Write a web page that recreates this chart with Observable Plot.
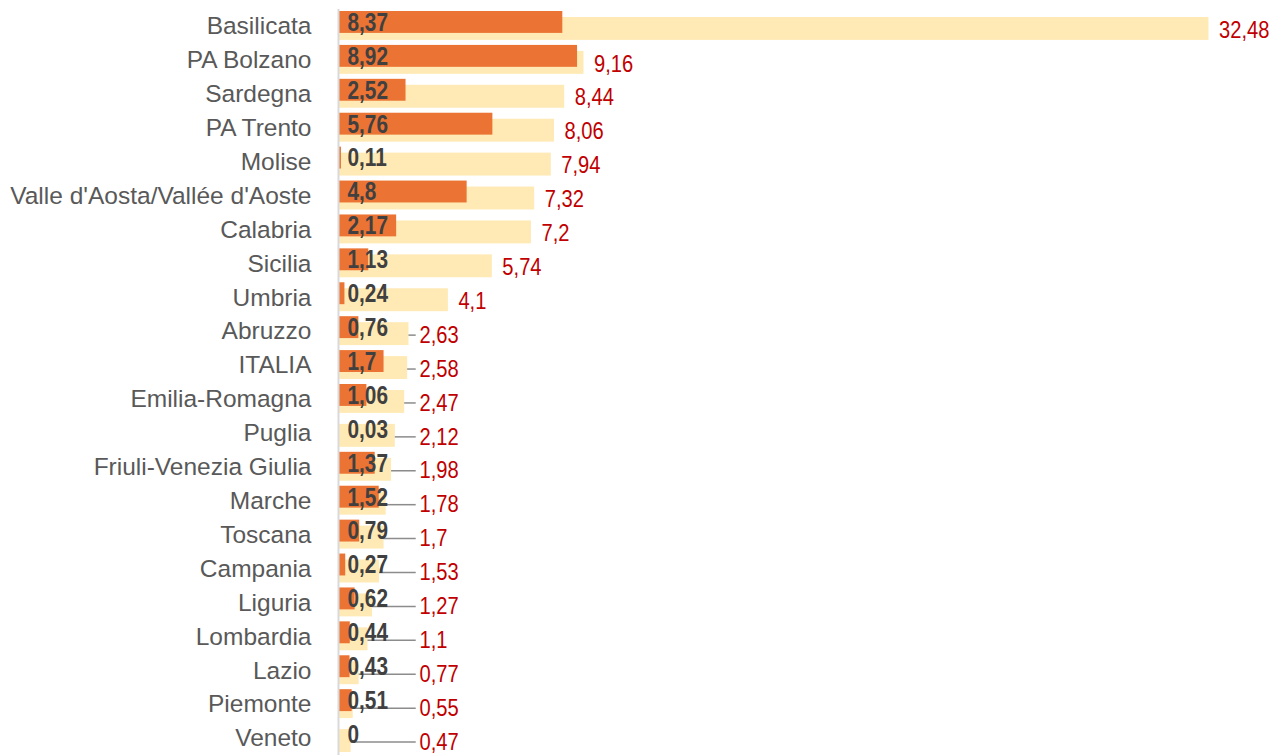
<!DOCTYPE html>
<html>
<head>
<meta charset="utf-8">
<script src="https://cdn.jsdelivr.net/npm/d3@7"></script>
<script src="https://cdn.jsdelivr.net/npm/@observablehq/plot@0.6"></script>
<style>
  html, body { margin: 0; padding: 0; background: #fff; overflow: hidden; }
  #chart svg { display: block; }
</style>
</head>
<body>
<div id="chart"></div>
<script>
const regions = ["Basilicata", "PA Bolzano", "Sardegna", "PA Trento", "Molise", "Valle d'Aosta/Vallée d'Aoste", "Calabria", "Sicilia", "Umbria", "Abruzzo", "ITALIA", "Emilia-Romagna", "Puglia", "Friuli-Venezia Giulia", "Marche", "Toscana", "Campania", "Liguria", "Lombardia", "Lazio", "Piemonte", "Veneto"];
const seriesLight = [32.48, 9.16, 8.44, 8.06, 7.94, 7.32, 7.2, 5.74, 4.1, 2.63, 2.58, 2.47, 2.12, 1.98, 1.78, 1.7, 1.53, 1.27, 1.1, 0.77, 0.55, 0.47];
const seriesDark = [8.37, 8.92, 2.52, 5.76, 0.11, 4.8, 2.17, 1.13, 0.24, 0.76, 1.7, 1.06, 0.03, 1.37, 1.52, 0.79, 0.27, 0.62, 0.44, 0.43, 0.51, 0];

const data = regions.map((r, i) => ({region: r, a: seriesLight[i], b: seriesDark[i]}));
const fmt = v => String(v).replace(".", ",");
const minLabel = 2.65;       // labels of short bars are pushed out to this value
const labelPos = d => Math.max(d.a, minLabel);

const chart = Plot.plot({
  width: 1276,
  height: 755,
  marginLeft: 338,
  marginRight: 0,
  marginTop: 9,
  marginBottom: 0,
  style: {fontFamily: "'Liberation Sans', Arial, sans-serif", background: "#fff"},
  x: {domain: [0, 35], axis: null},
  y: {domain: regions, padding: 0, round: false, label: null},
  marks: [
    Plot.barX(data, {y: "region", x: "a", fill: "#FFEAB5", insetTop: 8, insetBottom: 3}),
    Plot.barX(data, {y: "region", x: "b", fill: "#EB7434", insetTop: 2, insetBottom: 10}),
    Plot.ruleY(data.filter(d => d.a < 2.7), {
      y: "region", x1: "a", x2: d => labelPos(d) + 0.25,
      stroke: "#8c8c8c", strokeWidth: 1.5, dy: 3.5
    }),
    Plot.text(data, {
      y: "region", x: 0, text: d => fmt(d.b), textAnchor: "start", dx: 9, dy: -4,
      fill: "#404040", fontWeight: "bold", fontSize: 26
    }),
    Plot.text(data, {
      y: "region", x: labelPos, text: d => fmt(d.a), textAnchor: "start", dx: 10, dy: 3.5,
      fill: "#C00000", fontSize: 24
    }),
    Plot.ruleX([0], {stroke: "#D9D9D9", strokeWidth: 2}),
    Plot.axisY({tickSize: 0, tickPadding: 27, fontSize: 24.5, color: "#595959", label: null})
  ]
});
document.getElementById("chart").appendChild(chart);

// condensed look of the value labels (narrow font is not installed): squeeze horizontally
const groups = chart.querySelectorAll('g[aria-label="text"]');
const squeeze = [0.8, 0.84];
groups.forEach((g, k) => {
  g.querySelectorAll("text").forEach(t => {
    const tr = t.getAttribute("transform") || "";
    const x = +(t.getAttribute("x") || 0);
    if (x) {
      t.setAttribute("transform", `${tr} translate(${x},0) scale(${squeeze[k]},1)`);
      t.setAttribute("x", 0);
    } else {
      t.setAttribute("transform", `${tr} scale(${squeeze[k]},1)`);
    }
  });
});
</script>
</body>
</html>
